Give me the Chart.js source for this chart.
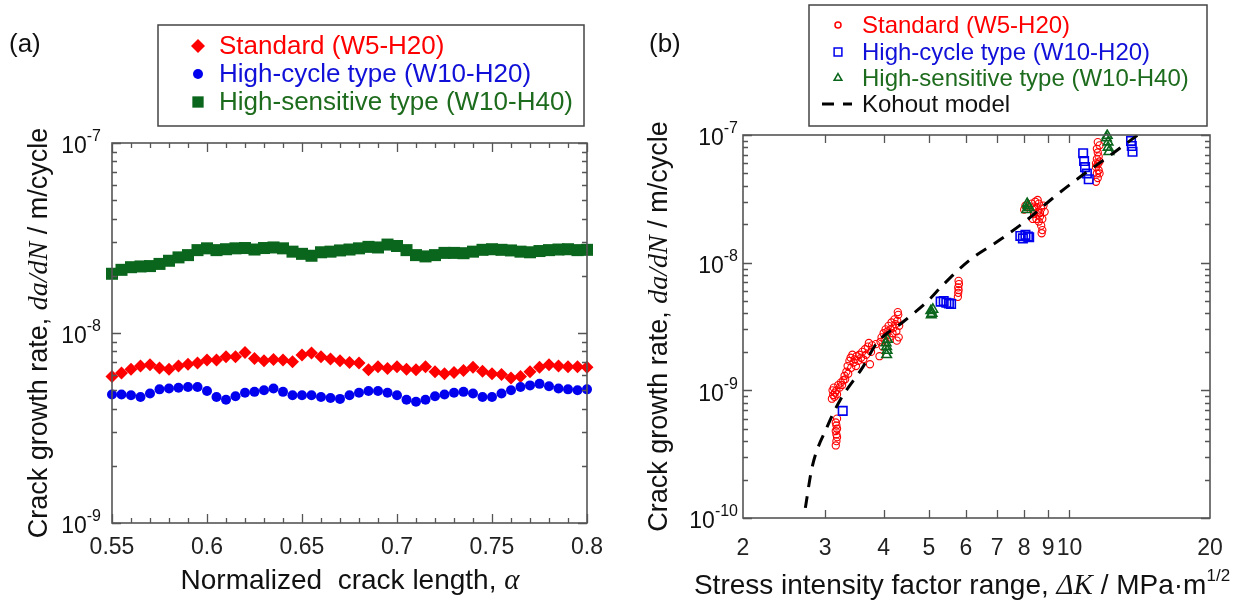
<!DOCTYPE html>
<html>
<head>
<meta charset="utf-8">
<script src="https://cdn.jsdelivr.net/npm/chart.js@4.4.1/dist/chart.umd.min.js"></script>
<style>
html, body { margin: 0; padding: 0; background: #fff; }
#wrap { position: relative; width: 1244px; height: 605px; }
canvas { position: absolute; top: 0; }
#chartA { left: 0; }
#chartB { left: 622px; }
</style>
</head>
<body>
<div id="wrap">
  <canvas id="chartA" width="622" height="605"></canvas>
  <canvas id="chartB" width="622" height="605"></canvas>
</div>
<script>
// ---- (a) crack growth rate vs normalized crack length ----
var alpha = [0.550, 0.555, 0.560, 0.565, 0.570, 0.575, 0.580, 0.585, 0.590, 0.595,
             0.600, 0.605, 0.610, 0.615, 0.620, 0.625, 0.630, 0.635, 0.640, 0.645,
             0.650, 0.655, 0.660, 0.665, 0.670, 0.675, 0.680, 0.685, 0.690, 0.695,
             0.700, 0.705, 0.710, 0.715, 0.720, 0.725, 0.730, 0.735, 0.740, 0.745,
             0.750, 0.755, 0.760, 0.765, 0.770, 0.775, 0.780, 0.785, 0.790, 0.795, 0.800];
// rates in units of 1e-9 m/cycle
var stdA = [5.9, 6.15, 6.45, 6.7, 6.8, 6.55, 6.45, 6.7, 6.85, 6.95,
            7.2, 7.2, 7.5, 7.5, 7.9, 7.35, 7.15, 7.25, 7.2, 7.05,
            7.65, 7.85, 7.5, 7.3, 7.15, 7.0, 6.95, 6.4, 6.65, 6.5,
            6.65, 6.45, 6.4, 6.65, 6.25, 6.1, 6.2, 6.35, 6.6, 6.3,
            6.1, 6.05, 5.8, 5.9, 6.25, 6.6, 6.8, 6.7, 6.65, 6.65, 6.6];
var cycA = [4.75, 4.75, 4.7, 4.6, 4.8, 5.05, 5.1, 5.15, 5.2, 5.2,
            4.95, 4.6, 4.45, 4.65, 4.85, 4.9, 5.0, 5.1, 4.9, 4.7,
            4.7, 4.7, 4.6, 4.55, 4.5, 4.7, 4.85, 4.95, 4.95, 4.85,
            4.7, 4.45, 4.35, 4.45, 4.65, 4.75, 4.85, 4.9, 4.8, 4.6,
            4.6, 4.8, 5.0, 5.2, 5.3, 5.4, 5.25, 5.1, 5.05, 5.0, 5.05];
// rates in units of 1e-8 m/cycle
var sensA = [2.05, 2.15, 2.22, 2.24, 2.25, 2.31, 2.4, 2.5, 2.57, 2.73,
             2.79, 2.73, 2.76, 2.79, 2.8, 2.75, 2.8, 2.82, 2.79, 2.68,
             2.61, 2.55, 2.66, 2.68, 2.72, 2.75, 2.79, 2.84, 2.82, 2.92,
             2.87, 2.73, 2.57, 2.53, 2.57, 2.64, 2.64, 2.63, 2.68, 2.74,
             2.76, 2.74, 2.72, 2.68, 2.66, 2.7, 2.73, 2.75, 2.76, 2.73, 2.74];
var alphaTicks = [0.55, 0.6, 0.65, 0.7, 0.75, 0.8];
var alphaTickLabels = ['0.55', '0.6', '0.65', '0.7', '0.75', '0.8'];
var rateDecadesA = [1e-9, 1e-8, 1e-7];
var rateDecadeLabelsA = ['-9', '-8', '-7'];

// ---- (b) crack growth rate vs stress intensity factor range ----
var stdK = [3.16, 3.17, 3.18, 3.17, 3.16, 3.18, 3.17, 3.16, 3.18,
  3.10, 3.12, 3.11, 3.14, 3.15, 3.13, 3.17, 3.18, 3.20, 3.22, 3.24, 3.26, 3.28, 3.30, 3.31, 3.33, 3.35, 3.36, 3.38, 3.40,
  3.41, 3.43, 3.45, 3.47, 3.49, 3.50, 3.53, 3.55, 3.58, 3.60, 3.62, 3.65, 3.67, 3.70, 3.72, 3.74, 3.76, 3.78, 3.85,
  3.92, 3.94, 3.96, 3.98, 4.00, 4.02, 4.04, 4.06, 4.08, 4.10, 4.12, 4.14, 4.16, 4.18, 4.20, 4.22, 4.24, 4.26, 4.28, 4.30,
  4.32, 4.29, 4.31, 4.27,
  5.77, 5.78, 5.79, 5.78, 5.80, 5.79,
  8.00, 8.05, 8.30, 8.35, 8.40, 8.45, 8.50, 8.55, 8.60, 8.65, 8.70, 8.75, 8.80, 8.60, 8.70, 8.75, 8.72, 8.50, 8.40, 8.55,
  8.65, 8.85, 8.35,
  11.40, 11.50, 11.45, 11.55, 11.40, 11.50, 11.60, 11.45, 11.55, 11.50, 11.45, 11.60, 11.50, 11.40, 11.60];
var stdRate = [3.7e-10, 4.0e-10, 4.3e-10, 4.5e-10, 4.8e-10, 5.0e-10, 5.3e-10, 5.6e-10, 6.0e-10,
  8.6e-10, 9.2e-10, 1.0e-9, 8.9e-10, 9.6e-10, 1.05e-9, 1.0e-9, 9.3e-10, 1.1e-9, 1.05e-9, 1.15e-9, 1.1e-9, 1.2e-9, 1.3e-9, 1.22e-9, 1.4e-9, 1.55e-9, 1.35e-9, 1.7e-9, 1.8e-9,
  1.5e-9, 1.9e-9, 1.65e-9, 1.75e-9, 1.55e-9, 1.85e-9, 1.7e-9, 1.9e-9, 1.8e-9, 2.0e-9, 1.75e-9, 2.1e-9, 1.9e-9, 2.2e-9, 2.35e-9, 1.6e-9, 2.0e-9, 2.25e-9, 2.3e-9,
  1.85e-9, 2.4e-9, 2.6e-9, 2.2e-9, 2.8e-9, 2.5e-9, 3.0e-9, 2.7e-9, 2.9e-9, 3.2e-9, 2.6e-9, 3.0e-9, 3.4e-9, 2.8e-9, 3.1e-9, 3.6e-9, 3.3e-9, 2.9e-9, 3.5e-9, 3.9e-9,
  3.2e-9, 4.1e-9, 2.6e-9, 2.45e-9,
  5.4e-9, 5.8e-9, 6.1e-9, 6.4e-9, 6.8e-9, 7.2e-9,
  2.6e-8, 2.8e-8, 2.9e-8, 2.6e-8, 2.4e-8, 3.0e-8, 2.7e-8, 2.5e-8, 2.9e-8, 2.3e-8, 2.65e-8, 2.2e-8, 2.8e-8, 2.1e-8, 1.95e-8, 1.8e-8, 1.7e-8, 2.2e-8, 2.75e-8, 3.1e-8,
  2.45e-8, 2.5e-8, 2.2e-8,
  4.3e-8, 4.6e-8, 5.0e-8, 5.3e-8, 5.6e-8, 5.9e-8, 6.2e-8, 6.5e-8, 6.8e-8, 7.3e-8, 7.8e-8, 8.3e-8, 8.8e-8, 6.0e-8, 5.0e-8];
var cycK = [3.27, 5.30, 5.38, 5.45, 5.52, 5.58, 7.85, 7.95, 8.05, 8.15, 8.20,
  10.7, 10.75, 10.8, 10.9, 11.0, 13.55, 13.6, 13.65];
var cycRate = [6.9e-10, 4.95e-9, 5.0e-9, 4.85e-9, 4.8e-9, 4.75e-9, 1.62e-8, 1.55e-8, 1.65e-8, 1.6e-8, 1.58e-8,
  7.2e-8, 6.25e-8, 5.6e-8, 5.0e-8, 4.5e-8, 9.0e-8, 8.2e-8, 7.4e-8];
var sensK = [4.05, 4.06, 4.07, 4.06, 4.08, 5.05, 5.08, 5.10, 5.06, 8.10, 8.15, 8.20, 8.12,
  12.0, 12.1, 12.1, 12.15, 12.05];
var sensRate = [2.35e-9, 2.2e-9, 2.05e-9, 1.9e-9, 2.5e-9, 4.2e-9, 4.0e-9, 4.3e-9, 3.9e-9,
  2.6e-8, 2.8e-8, 2.7e-8, 2.9e-8, 9.5e-8, 8.8e-8, 8.0e-8, 7.4e-8, 9.9e-8];
var kohoutK = [2.72, 2.81, 3.03, 3.23, 3.61, 3.87, 4.40, 4.95, 5.36, 6.12, 7.10, 8.11, 9.22, 10.2, 12.4, 14.0];
var kohoutRate = [1.2e-10, 2.47e-10, 5.2e-10, 8.4e-10, 1.52e-9, 2.35e-9, 3.43e-9, 4.92e-9, 6.68e-9,
  1.05e-8, 1.51e-8, 2.16e-8, 3.21e-8, 4.29e-8, 7.2e-8, 1.0e-7];
var kTicks = [2, 3, 4, 5, 6, 7, 8, 9, 10, 20];
var kTickLabels = ['2', '3', '4', '5', '6', '7', '8', '9', '10', '20'];
var rateDecadesB = [1e-10, 1e-9, 1e-8, 1e-7];
var rateDecadeLabelsB = ['-10', '-9', '-8', '-7'];

var RED = '#ff0000', BLUE = '#0000ee', GREEN = '#0a661c';
var SANS = '"Liberation Sans", Arial, sans-serif';
var SERIF = '"Liberation Serif", "Times New Roman", serif';

Chart.defaults.font.family = SANS;
Chart.defaults.color = '#222';
Chart.defaults.animation = false;

function pairs(xs, ys, unit) {
  return xs.map(function (x, i) { return { x: x, y: ys[i] * unit }; });
}

function minorLog(decades) {
  var out = [];
  decades.slice(0, -1).forEach(function (d) {
    for (var m = 2; m <= 9; m++) out.push(m * d);
  });
  return out;
}

// inward ticks on all four sides plus the frame
var frameTicks = {
  id: 'frameTicks',
  afterDatasetsDraw: function (chart, args, o) {
    var ctx = chart.ctx, a = chart.chartArea, xs = chart.scales.x, ys = chart.scales.y;
    ctx.save();
    ctx.strokeStyle = '#555';
    ctx.lineWidth = 1.3;
    ctx.beginPath();
    function xt(list, len) {
      list.forEach(function (v) {
        var p = Math.round(xs.getPixelForValue(v)) + 0.5;
        ctx.moveTo(p, a.bottom); ctx.lineTo(p, a.bottom - len);
        ctx.moveTo(p, a.top); ctx.lineTo(p, a.top + len);
      });
    }
    function yt(list, len) {
      list.forEach(function (v) {
        var p = Math.round(ys.getPixelForValue(v)) + 0.5;
        ctx.moveTo(a.left, p); ctx.lineTo(a.left + len, p);
        ctx.moveTo(a.right, p); ctx.lineTo(a.right - len, p);
      });
    }
    xt(o.xMajor, o.xMajorLen); xt(o.xMinor, o.xMinorLen);
    yt(o.yMajor, 9); yt(o.yMinor, 5);
    ctx.stroke();
    ctx.lineWidth = 1.6;
    ctx.strokeRect(a.left, a.top, a.right - a.left, a.bottom - a.top);
    ctx.restore();
  }
};

function richText(ctx, parts, x, y, rotate) {
  ctx.save();
  ctx.translate(x, y);
  if (rotate) ctx.rotate(-Math.PI / 2);
  ctx.textBaseline = 'middle';
  ctx.textAlign = 'left';
  var total = 0;
  parts.forEach(function (p) { ctx.font = p.font; p.w = ctx.measureText(p.text).width; total += p.w; });
  var cx = -total / 2;
  parts.forEach(function (p) {
    ctx.font = p.font;
    ctx.fillStyle = '#111';
    ctx.fillText(p.text, cx, p.dy || 0);
    cx += p.w;
  });
  ctx.restore();
}

// panel tag, power-of-ten labels, axis titles and boxed legend
var decor = {
  id: 'decor',
  afterDraw: function (chart, args, o) {
    var ctx = chart.ctx, a = chart.chartArea, ys = chart.scales.y;
    ctx.save();
    ctx.fillStyle = '#111';
    ctx.textBaseline = 'middle';
    ctx.font = '26px ' + SANS;
    ctx.textAlign = 'left';
    ctx.fillText(o.tag, o.tagX, 45);

    o.decades.forEach(function (d, i) {
      var p = ys.getPixelForValue(d);
      ctx.font = '16px ' + SANS;
      var sw = ctx.measureText(o.decadeLabels[i]).width;
      var sx = a.left - o.labelGap - sw;
      ctx.textAlign = 'left';
      ctx.fillText(o.decadeLabels[i], sx, p - 6);
      ctx.font = '23px ' + SANS;
      ctx.textAlign = 'right';
      ctx.fillText('10', sx, p + 4);
    });

    richText(ctx, o.yTitle, o.yTitleX, (a.top + a.bottom) / 2, true);
    richText(ctx, o.xTitle, o.xTitleX, o.xTitleY, false);

    var L = o.legend;
    ctx.strokeStyle = '#444';
    ctx.lineWidth = 1.5;
    ctx.strokeRect(L.x, L.y, L.w, L.h);
    chart.data.datasets.forEach(function (ds, i) {
      var y = L.rows[i];
      if (ds.showLine) {
        ctx.strokeStyle = ds.borderColor;
        ctx.lineWidth = 3;
        ctx.setLineDash(ds.borderDash);
        ctx.beginPath();
        ctx.moveTo(L.markX - 16, y); ctx.lineTo(L.markX + 14, y);
        ctx.stroke();
        ctx.setLineDash([]);
      } else {
        ctx.fillStyle = ds.backgroundColor;
        ctx.strokeStyle = ds.borderColor;
        Chart.helpers.drawPoint(ctx, {
          pointStyle: ds.pointStyle, radius: L.radius[i], rotation: 0, borderWidth: ds.borderWidth
        }, L.markX, y);
      }
      ctx.font = L.font + 'px ' + SANS;
      ctx.fillStyle = ds.textColor;
      ctx.textAlign = 'left';
      ctx.textBaseline = 'middle';
      ctx.fillText(ds.label, L.textX, y + 1);
    });
    ctx.restore();
  }
};

var alphaMinor = [];
for (var t = 56; t < 80; t++) { if (t % 5) alphaMinor.push(t / 100); }

new Chart(document.getElementById('chartA').getContext('2d'), {
  type: 'scatter',
  data: {
    datasets: [{
      label: 'Standard (W5-H20)',
      data: pairs(alpha, stdA, 1e-9),
      pointStyle: 'rectRot', pointRadius: 6.5,
      backgroundColor: RED, borderColor: RED, borderWidth: 0,
      textColor: '#ff0000', clip: false, order: 2
    }, {
      label: 'High-cycle type (W10-H20)',
      data: pairs(alpha, cycA, 1e-9),
      pointStyle: 'circle', pointRadius: 5,
      backgroundColor: BLUE, borderColor: BLUE, borderWidth: 0,
      textColor: '#1010d8', clip: false, order: 1
    }, {
      label: 'High-sensitive type (W10-H40)',
      data: pairs(alpha, sensA, 1e-8),
      pointStyle: 'rect', pointRadius: 8.5,
      backgroundColor: GREEN, borderColor: GREEN, borderWidth: 0,
      textColor: '#1d6b1d', clip: false, order: 3
    }]
  },
  options: {
    responsive: false,
    layout: { padding: { left: 0, right: 35, top: 143, bottom: 0 } },
    plugins: {
      legend: { display: false },
      tooltip: { enabled: false },
      frameTicks: {
        xMajor: alphaTicks, xMinor: alphaMinor, xMajorLen: 9, xMinorLen: 5,
        yMajor: rateDecadesA, yMinor: minorLog(rateDecadesA)
      },
      decor: {
        tag: '(a)', tagX: 9,
        decades: rateDecadesA, decadeLabels: rateDecadeLabelsA, labelGap: 11,
        yTitle: [
          { text: 'Crack growth rate, ', font: '27px ' + SANS },
          { text: 'da/dN', font: 'italic 28px ' + SERIF },
          { text: ' / m/cycle', font: '27px ' + SANS }
        ],
        yTitleX: 40,
        xTitle: [
          { text: 'Normalized  crack length, ', font: '28px ' + SANS },
          { text: '\u03b1', font: 'italic 29px ' + SERIF }
        ],
        xTitleX: 350, xTitleY: 581,
        legend: {
          x: 158, y: 25, w: 426, h: 101, rows: [46, 74, 102],
          markX: 198, textX: 219, font: 26, radius: [7, 5, 8]
        }
      }
    },
    scales: {
      x: {
        type: 'linear', min: 0.55, max: 0.8,
        afterBuildTicks: function (s) { s.ticks = alphaTicks.map(function (v) { return { value: v }; }); },
        afterFit: function (s) { s.height = 82; },
        grid: { display: false, drawTicks: false },
        border: { display: false },
        ticks: {
          autoSkip: false, maxRotation: 0, padding: 11, color: '#222',
          font: { size: 23 },
          callback: function (v, i) { return alphaTickLabels[i]; }
        }
      },
      y: {
        type: 'logarithmic', min: 1e-9, max: 1e-7,
        afterFit: function (s) { s.width = 112; },
        grid: { display: false, drawTicks: false },
        border: { display: false },
        ticks: { display: false }
      }
    }
  },
  plugins: [frameTicks, decor]
});

new Chart(document.getElementById('chartB').getContext('2d'), {
  type: 'scatter',
  data: {
    datasets: [{
      label: 'Standard (W5-H20)',
      data: pairs(stdK, stdRate, 1),
      pointStyle: 'circle', pointRadius: 3.6,
      backgroundColor: 'rgba(255,255,255,0)', borderColor: RED, borderWidth: 1.1,
      textColor: '#ff0000', clip: 6, order: 4
    }, {
      label: 'High-cycle type (W10-H20)',
      data: pairs(cycK, cycRate, 1),
      pointStyle: 'rect', pointRadius: 6,
      backgroundColor: 'rgba(255,255,255,0)', borderColor: BLUE, borderWidth: 1.6,
      textColor: '#1010d8', clip: 6, order: 3
    }, {
      label: 'High-sensitive type (W10-H40)',
      data: pairs(sensK, sensRate, 1),
      pointStyle: 'triangle', pointRadius: 5.5,
      backgroundColor: 'rgba(255,255,255,0)', borderColor: GREEN, borderWidth: 1.6,
      textColor: '#1d6b1d', clip: 6, order: 2
    }, {
      label: 'Kohout model',
      data: pairs(kohoutK, kohoutRate, 1),
      showLine: true, pointRadius: 0, borderColor: '#000', borderWidth: 3,
      borderDash: [12, 9], cubicInterpolationMode: 'monotone',
      textColor: '#111', order: 1
    }]
  },
  options: {
    responsive: false,
    layout: { padding: { left: 0, right: 34, top: 135, bottom: 0 } },
    plugins: {
      legend: { display: false },
      tooltip: { enabled: false },
      frameTicks: {
        xMajor: [3, 4, 5, 6, 7, 8, 9, 10], xMinor: [], xMajorLen: 8, xMinorLen: 5,
        yMajor: rateDecadesB, yMinor: minorLog(rateDecadesB)
      },
      decor: {
        tag: '(b)', tagX: 27,
        decades: rateDecadesB, decadeLabels: rateDecadeLabelsB, labelGap: 5,
        yTitle: [
          { text: 'Crack growth rate, ', font: '27px ' + SANS },
          { text: 'da/dN', font: 'italic 28px ' + SERIF },
          { text: ' / m/cycle', font: '27px ' + SANS }
        ],
        yTitleX: 38,
        xTitle: [
          { text: 'Stress intensity factor range, ', font: '28px ' + SANS },
          { text: '\u0394K', font: 'italic 29px ' + SERIF },
          { text: ' / MPa\u00b7m', font: '28px ' + SANS },
          { text: '1/2', font: '17px ' + SANS, dy: -10 }
        ],
        xTitleX: 340, xTitleY: 586,
        legend: {
          x: 187, y: 5, w: 398, h: 121, rows: [25, 52, 78, 104],
          markX: 216, textX: 240, font: 24, radius: [3, 5.5, 4.5, 0]
        }
      }
    },
    scales: {
      x: {
        type: 'logarithmic', min: 2, max: 20,
        afterBuildTicks: function (s) { s.ticks = kTicks.map(function (v) { return { value: v }; }); },
        afterFit: function (s) { s.height = 87; },
        grid: { display: false, drawTicks: false },
        border: { display: false },
        ticks: {
          autoSkip: false, maxRotation: 0, padding: 17, color: '#222',
          font: { size: 23 },
          callback: function (v, i) { return kTickLabels[i]; }
        }
      },
      y: {
        type: 'logarithmic', min: 1e-10, max: 1e-7,
        afterFit: function (s) { s.width = 121; },
        grid: { display: false, drawTicks: false },
        border: { display: false },
        ticks: { display: false }
      }
    }
  },
  plugins: [frameTicks, decor]
});
</script>
</body>
</html>
